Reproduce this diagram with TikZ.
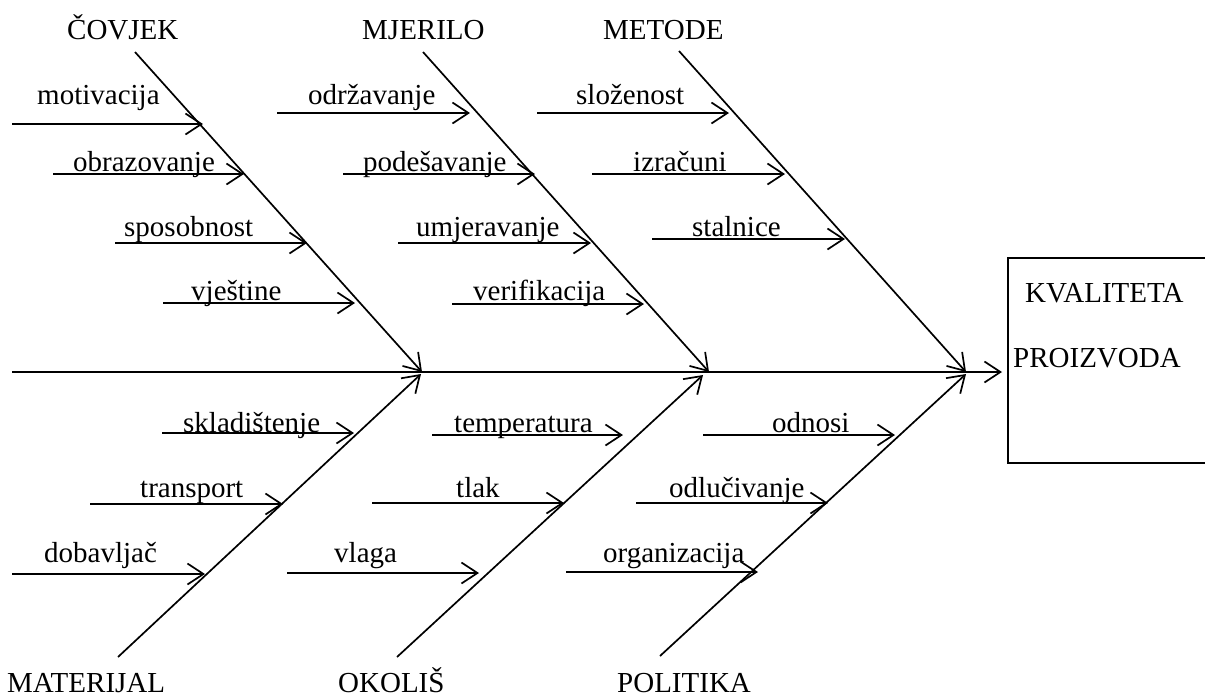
\documentclass[tikz,border=0pt]{standalone}
\usepackage{fontspec}
\setmainfont{Liberation Serif}
\usetikzlibrary{arrows.meta}
\begin{document}
\begin{tikzpicture}[x=1pt,y=-1pt,
  ln/.style={line width=1.7pt},
  arr/.style={ln,-{Straight Barb[length=16pt,width=21pt]}},
  lbl/.style={font=\fontsize{29}{34}\selectfont, inner sep=0pt, anchor=base west},
  boxst/.style={draw, line width=1.7pt, anchor=north west, minimum width=240pt, minimum height=205pt, inner sep=0pt}
]
\clip (0,0) rectangle (1205,694);
\fill[white] (0,0) rectangle (1205,694);

% headers
\node[lbl] (covjek) at (67,39) {ČOVJEK};
\node[lbl] (mjerilo) at (362,39) {MJERILO};
\node[lbl] (metode) at (603,39) {METODE};
\node[lbl] (materijal) at (7,692) {MATERIJAL};
\node[lbl] (okolis) at (338,692) {OKOLIŠ};
\node[lbl] (politika) at (617,692) {POLITIKA};

% box
\node[boxst] (box) at (1007,257) {};
\node[lbl] (kval) at (1025,302) {KVALITETA};
\node[lbl] (proiz) at (1013,367) {PROIZVODA};

% spine
\coordinate (s0) at (12,372);
\coordinate (s1) at (1002,372);
\draw[arr] (s0) -- (s1);

% main bones
\coordinate (c1) at (135,52);  \coordinate (j1) at (422,372);
\coordinate (c2) at (423,52);  \coordinate (j2) at (709,372);
\coordinate (c3) at (679,51);  \coordinate (j3) at (966,372);
\coordinate (m1) at (118,657); \coordinate (k1) at (421,374);
\coordinate (m2) at (397,657); \coordinate (k2) at (703,375);
\coordinate (m3) at (660,656); \coordinate (k3) at (966,374);
\draw[arr] (c1) -- (j1);
\draw[arr] (c2) -- (j2);
\draw[arr] (c3) -- (j3);
\draw[arr] (m1) -- (k1);
\draw[arr] (m2) -- (k2);
\draw[arr] (m3) -- (k3);

% COVJEK causes
\coordinate (a1s) at (12,124);  \coordinate (a1e) at (203,124);
\coordinate (a2s) at (53,174);  \coordinate (a2e) at (244,174);
\coordinate (a3s) at (115,243); \coordinate (a3e) at (307,243);
\coordinate (a4s) at (163,303); \coordinate (a4e) at (355,303);
\draw[arr] (a1s) -- (a1e);
\draw[arr] (a2s) -- (a2e);
\draw[arr] (a3s) -- (a3e);
\draw[arr] (a4s) -- (a4e);
\node[lbl] (t1) at (37,104) {motivacija};
\node[lbl] (t2) at (73,171) {obrazovanje};
\node[lbl] (t3) at (124,236) {sposobnost};
\node[lbl] (t4) at (191,300) {vještine};

% MJERILO causes
\coordinate (b1s) at (277,113); \coordinate (b1e) at (470,113);
\coordinate (b2s) at (343,174); \coordinate (b2e) at (535,174);
\coordinate (b3s) at (398,243); \coordinate (b3e) at (591,243);
\coordinate (b4s) at (452,304); \coordinate (b4e) at (644,304);
\draw[arr] (b1s) -- (b1e);
\draw[arr] (b2s) -- (b2e);
\draw[arr] (b3s) -- (b3e);
\draw[arr] (b4s) -- (b4e);
\node[lbl] (u1) at (308,104) {održavanje};
\node[lbl] (u2) at (363,171) {podešavanje};
\node[lbl] (u3) at (416,236) {umjeravanje};
\node[lbl] (u4) at (473,300) {verifikacija};

% METODE causes
\coordinate (d1s) at (537,113); \coordinate (d1e) at (729,113);
\coordinate (d2s) at (592,174); \coordinate (d2e) at (785,174);
\coordinate (d3s) at (652,239); \coordinate (d3e) at (845,239);
\draw[arr] (d1s) -- (d1e);
\draw[arr] (d2s) -- (d2e);
\draw[arr] (d3s) -- (d3e);
\node[lbl] (v1) at (576,104) {složenost};
\node[lbl] (v2) at (633,171) {izračuni};
\node[lbl] (v3) at (692,236) {stalnice};

% MATERIJAL causes
\coordinate (e1s) at (162,433); \coordinate (e1e) at (354,433);
\coordinate (e2s) at (90,504);  \coordinate (e2e) at (283,504);
\coordinate (e3s) at (12,574);  \coordinate (e3e) at (205,574);
\draw[arr] (e1s) -- (e1e);
\draw[arr] (e2s) -- (e2e);
\draw[arr] (e3s) -- (e3e);
\node[lbl] (w1) at (183,432) {skladištenje};
\node[lbl] (w2) at (140,497) {transport};
\node[lbl] (w3) at (44,562) {dobavljač};

% OKOLIS causes
\coordinate (f1s) at (432,435); \coordinate (f1e) at (623,435);
\coordinate (f2s) at (372,503); \coordinate (f2e) at (564,503);
\coordinate (f3s) at (287,573); \coordinate (f3e) at (479,573);
\draw[arr] (f1s) -- (f1e);
\draw[arr] (f2s) -- (f2e);
\draw[arr] (f3s) -- (f3e);
\node[lbl] (x1) at (454,432) {temperatura};
\node[lbl] (x2) at (456,497) {tlak};
\node[lbl] (x3) at (334,562) {vlaga};

% POLITIKA causes
\coordinate (g1s) at (703,435); \coordinate (g1e) at (895,435);
\coordinate (g2s) at (636,503); \coordinate (g2e) at (828,503);
\coordinate (g3s) at (566,572); \coordinate (g3e) at (758,572);
\draw[arr] (g1s) -- (g1e);
\draw[arr] (g2s) -- (g2e);
\draw[arr] (g3s) -- (g3e);
\node[lbl] (y1) at (772,432) {odnosi};
\node[lbl] (y2) at (669,497) {odlučivanje};
\node[lbl] (y3) at (603,562) {organizacija};
\end{tikzpicture}
\end{document}
